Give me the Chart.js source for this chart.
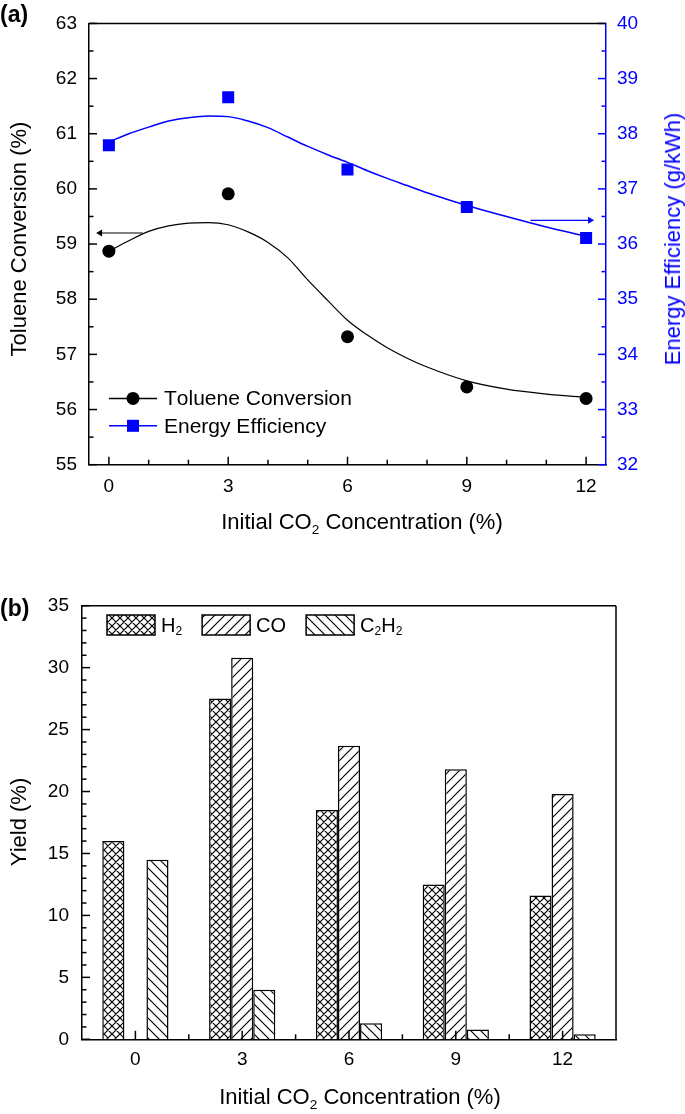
<!DOCTYPE html>
<html>
<head>
<meta charset="utf-8">
<title>CO2 effect on toluene conversion</title>
<script src="https://cdn.jsdelivr.net/npm/chart.js@4.4.0/dist/chart.umd.min.js"></script>
<style>
  html, body { margin: 0; padding: 0; background: #fff; }
  #page { position: relative; width: 685px; height: 1114px; font-family: "Liberation Sans", Arial, sans-serif; }
  canvas { position: absolute; left: 0; }
  #chartA { top: 0; }
  #chartB { top: 570px; }
  .lbl { position: absolute; white-space: nowrap; transform: translate(-50%, -50%); font-size: 22px; color: #000; line-height: 1; }
  .rot { transform: translate(-50%, -50%) rotate(-90deg); }
  .panel { position: absolute; font-weight: bold; font-size: 23px; line-height: 1; }
  sub { font-size: 0.62em; vertical-align: -0.35em; line-height: 0; }
</style>
</head>
<body>
<div id="page">
  <canvas id="chartA" width="685" height="560"></canvas>
  <canvas id="chartB" width="685" height="544"></canvas>
  <div class="panel" style="left:0;top:3px">(a)</div>
  <div class="panel" style="left:0;top:597px">(b)</div>
  <div class="lbl rot" style="left:19px;top:239px">Toluene Conversion (%)</div>
  <div class="lbl rot" style="left:673px;top:239px;color:#0000ff">Energy Efficiency (g/kWh)</div>
  <div class="lbl" style="left:362px;top:522px">Initial CO<sub>2</sub> Concentration (%)</div>
  <div class="lbl rot" style="left:19px;top:822px">Yield (%)</div>
  <div class="lbl" style="left:360px;top:1097px">Initial CO<sub>2</sub> Concentration (%)</div>
</div>
<script>
// (a) measured points
const concentrations = [0, 3, 6, 9, 12];
const tolueneConversion = [58.87, 59.91, 57.32, 56.41, 56.2];
const energyEfficiency = [37.79, 38.66, 37.35, 36.67, 36.11];

// (a) fitted curves
const fitX = [0, 0.5, 1, 1.5, 2, 2.5, 3, 3.5, 4, 4.5, 5, 5.5, 6, 6.5, 7, 7.5, 8, 9, 10, 11, 12];
const tolueneFit = [58.87, 59.06, 59.23, 59.33, 59.38, 59.39, 59.35, 59.22, 59.03, 58.75, 58.35, 57.98, 57.62, 57.35, 57.12, 56.93, 56.77, 56.52, 56.37, 56.28, 56.22];
const energyFit = [37.85, 38.0, 38.12, 38.23, 38.29, 38.32, 38.31, 38.23, 38.11, 37.94, 37.77, 37.62, 37.48, 37.33, 37.19, 37.06, 36.93, 36.70, 36.50, 36.31, 36.14];

// axis arrows
const leftArrowX = [0.85, -0.22];
const leftArrowY = [59.2, 59.2];
const rightArrowX = [10.6, 12.1];
const rightArrowY = [36.43, 36.43];

const xTicksA = [0, 3, 6, 9, 12];
const conversionTicks = [55, 56, 57, 58, 59, 60, 61, 62, 63];
const efficiencyTicks = [32, 33, 34, 35, 36, 37, 38, 39, 40];

// (b) product yields
const co2Labels = ['0', '3', '6', '9', '12'];
const yieldH2 = [16.0, 27.5, 18.5, 12.5, 11.6];
const yieldCO = [0, 30.8, 23.7, 21.8, 19.8];
const yieldC2H2 = [14.5, 4.0, 1.3, 0.8, 0.4];
const yieldTicks = [0, 5, 10, 15, 20, 25, 30, 35];

const BLUE = '#0000ff';
const FONT = '"Liberation Sans", Arial, sans-serif';
const SUBS = { '₂': '2' };

function pts(xs, ys) {
    return xs.map((x, i) => ({ x: x, y: ys[i] }));
}

function minorValues(min, max, step, skip) {
    const out = [];
    for (let v = min; v <= max + 1e-9; v += step) {
        const r = Math.round(v * 100) / 100;
        if (!skip.includes(r)) out.push(r);
    }
    return out;
}

function hatch(kind) {
    const s = kind === 'cross' ? 8 : 10;
    const c = document.createElement('canvas');
    c.width = s;
    c.height = s;
    const g = c.getContext('2d');
    g.fillStyle = '#fff';
    g.fillRect(0, 0, s, s);
    g.strokeStyle = '#000';
    g.lineWidth = 1.2;
    g.beginPath();
    if (kind === 'fwd' || kind === 'cross') {
        g.moveTo(-1, s + 1); g.lineTo(s + 1, -1);
        g.moveTo(-1, 1); g.lineTo(1, -1);
        g.moveTo(s - 1, s + 1); g.lineTo(s + 1, s - 1);
    }
    if (kind === 'back' || kind === 'cross') {
        g.moveTo(-1, -1); g.lineTo(s + 1, s + 1);
        g.moveTo(s - 1, -1); g.lineTo(s + 1, 1);
        g.moveTo(-1, s - 1); g.lineTo(1, s + 1);
    }
    g.stroke();
    return g.createPattern(c, 'repeat');
}

function drawRich(ctx, text, x, y, size) {
    for (const ch of text) {
        if (SUBS[ch]) {
            ctx.font = Math.round(size * 0.62) + 'px ' + FONT;
            ctx.fillText(SUBS[ch], x, y + size * 0.3);
            x += ctx.measureText(SUBS[ch]).width;
        } else {
            ctx.font = size + 'px ' + FONT;
            ctx.fillText(ch, x, y);
            x += ctx.measureText(ch).width;
        }
    }
    return x;
}

// inward tick marks + closing frame lines
const innerTicks = {
    id: 'innerTicks',
    afterDatasetsDraw(chart, args, opts) {
        const ctx = chart.ctx;
        const area = chart.chartArea;
        ctx.save();
        ctx.lineWidth = 1.5;
        (opts.axes || []).forEach(ax => {
            const scale = chart.scales[ax.id];
            ctx.strokeStyle = ax.color;
            const drawSet = (values, len) => {
                values.forEach(v => {
                    const p = scale.getPixelForValue(v);
                    ctx.beginPath();
                    if (ax.side === 'bottom') {
                        ctx.moveTo(p, area.bottom); ctx.lineTo(p, area.bottom - len);
                    } else if (ax.side === 'left') {
                        ctx.moveTo(area.left, p); ctx.lineTo(area.left + len, p);
                    } else {
                        ctx.moveTo(area.right, p); ctx.lineTo(area.right - len, p);
                    }
                    ctx.stroke();
                });
            };
            drawSet(ax.major, ax.majorLen);
            drawSet(ax.minor, ax.minorLen);
        });
        ctx.strokeStyle = '#000';
        (opts.frame || []).forEach(side => {
            ctx.beginPath();
            if (side === 'top') {
                ctx.moveTo(area.left, area.top); ctx.lineTo(area.right, area.top);
            } else if (side === 'right') {
                ctx.moveTo(area.right, area.top); ctx.lineTo(area.right, area.bottom);
            }
            ctx.stroke();
        });
        ctx.restore();
    }
};

// legend drawn inside the plot area
const insideLegend = {
    id: 'insideLegend',
    afterDraw(chart, args, opts) {
        if (!opts.items) return;
        const ctx = chart.ctx;
        const area = chart.chartArea;
        const size = opts.fontSize;
        ctx.save();
        ctx.textBaseline = 'middle';
        ctx.fillStyle = '#000';
        let x = area.left + opts.x;
        let y = area.top + opts.y;
        opts.items.forEach(idx => {
            const ds = chart.data.datasets[idx];
            if (opts.kind === 'line') {
                ctx.strokeStyle = ds.borderColor;
                ctx.lineWidth = 1.5;
                ctx.beginPath();
                ctx.moveTo(x, y); ctx.lineTo(x + 48, y);
                ctx.stroke();
                ctx.fillStyle = ds.backgroundColor;
                if (ds.pointStyle === 'rect') {
                    const s = ds.pointRadius * Math.SQRT2;
                    ctx.fillRect(x + 24 - s / 2, y - s / 2, s, s);
                } else {
                    ctx.beginPath();
                    ctx.arc(x + 24, y, ds.pointRadius, 0, Math.PI * 2);
                    ctx.fill();
                }
                ctx.fillStyle = '#000';
                drawRich(ctx, ds.label, x + 55, y + 1, size);
                y += opts.rowGap;
            } else {
                ctx.fillStyle = ds.backgroundColor;
                ctx.fillRect(x, y, 48, 20);
                ctx.strokeStyle = '#000';
                ctx.lineWidth = 1.5;
                ctx.strokeRect(x, y, 48, 20);
                ctx.fillStyle = '#000';
                x = drawRich(ctx, ds.label, x + 54, y + 11, size) + 20;
            }
        });
        ctx.restore();
    }
};

const tickFont = { family: FONT, size: 19 };

new Chart(document.getElementById('chartA'), {
    type: 'scatter',
    data: {
        datasets: [
            {
                label: 'Toluene fit',
                data: pts(fitX, tolueneFit),
                yAxisID: 'y',
                showLine: true,
                borderColor: '#000',
                borderWidth: 1.2,
                pointRadius: 0,
                cubicInterpolationMode: 'monotone'
            },
            {
                label: 'Energy fit',
                data: pts(fitX, energyFit),
                yAxisID: 'y1',
                showLine: true,
                borderColor: BLUE,
                borderWidth: 1.5,
                pointRadius: 0,
                cubicInterpolationMode: 'monotone'
            },
            {
                label: 'Toluene Conversion',
                data: pts(concentrations, tolueneConversion),
                yAxisID: 'y',
                pointStyle: 'circle',
                pointRadius: 6.5,
                backgroundColor: '#000',
                borderColor: '#000',
                borderWidth: 0
            },
            {
                label: 'Energy Efficiency',
                data: pts(concentrations, energyEfficiency),
                yAxisID: 'y1',
                pointStyle: 'rect',
                pointRadius: 8.5,
                backgroundColor: BLUE,
                borderColor: BLUE,
                borderWidth: 0
            },
            {
                label: 'arrow left',
                data: pts(leftArrowX, leftArrowY),
                yAxisID: 'y',
                showLine: true,
                borderColor: '#000',
                borderWidth: 1.2,
                backgroundColor: '#000',
                pointStyle: 'triangle',
                pointRotation: [0, 270],
                pointRadius: [0, 4],
                pointBorderWidth: 0
            },
            {
                label: 'arrow right',
                data: pts(rightArrowX, rightArrowY),
                yAxisID: 'y1',
                showLine: true,
                borderColor: BLUE,
                borderWidth: 1.2,
                backgroundColor: BLUE,
                pointStyle: 'triangle',
                pointRotation: [0, 90],
                pointRadius: [0, 4],
                pointBorderWidth: 0
            }
        ]
    },
    options: {
        responsive: false,
        animation: false,
        layout: { padding: { top: 14.3, left: 0, right: 0, bottom: 0 } },
        plugins: {
            legend: { display: false },
            tooltip: { enabled: false },
            innerTicks: {
                axes: [
                    { id: 'x', side: 'bottom', color: '#000', major: xTicksA, minor: minorValues(0, 12, 1, xTicksA), majorLen: 8, minorLen: 5 },
                    { id: 'y', side: 'left', color: '#000', major: conversionTicks, minor: minorValues(55, 63, 0.5, conversionTicks), majorLen: 8, minorLen: 4.5 },
                    { id: 'y1', side: 'right', color: BLUE, major: efficiencyTicks, minor: minorValues(32, 40, 0.5, efficiencyTicks), majorLen: 8, minorLen: 4.5 }
                ],
                frame: ['top']
            },
            insideLegend: { kind: 'line', items: [2, 3], x: 20, y: 375, rowGap: 27.4, fontSize: 21 }
        },
        scales: {
            x: {
                type: 'linear',
                min: -0.5,
                max: 12.5,
                afterBuildTicks: s => { s.ticks = xTicksA.map(v => ({ value: v })); },
                afterFit: s => { s.height = 560 - 464.7; },
                grid: { display: false, drawTicks: false },
                border: { display: true, color: '#000', width: 1.5 },
                ticks: { font: tickFont, color: '#000', padding: 11, maxRotation: 0 }
            },
            y: {
                position: 'left',
                min: 55,
                max: 63,
                afterBuildTicks: s => { s.ticks = conversionTicks.map(v => ({ value: v })); },
                afterFit: s => { s.width = 89; },
                grid: { display: false, drawTicks: false },
                border: { display: true, color: '#000', width: 1.5 },
                ticks: { font: tickFont, color: '#000', padding: 12 }
            },
            y1: {
                position: 'right',
                min: 32,
                max: 40,
                afterBuildTicks: s => { s.ticks = efficiencyTicks.map(v => ({ value: v })); },
                afterFit: s => { s.width = 685 - 606; },
                grid: { display: false, drawTicks: false },
                border: { display: true, color: BLUE, width: 1.5 },
                ticks: { font: tickFont, color: BLUE, padding: 11 }
            }
        }
    },
    plugins: [innerTicks, insideLegend]
});

new Chart(document.getElementById('chartB'), {
    type: 'bar',
    data: {
        labels: co2Labels,
        datasets: [
            { label: 'H₂', data: yieldH2, backgroundColor: hatch('cross') },
            { label: 'CO', data: yieldCO, backgroundColor: hatch('fwd') },
            { label: 'C₂H₂', data: yieldC2H2, backgroundColor: hatch('back') }
        ].map(ds => Object.assign(ds, {
            borderColor: '#000',
            borderWidth: 1.5,
            categoryPercentage: 0.62,
            barPercentage: 1
        }))
    },
    options: {
        responsive: false,
        animation: false,
        layout: { padding: { top: 35.7, left: 0, right: 685 - 616, bottom: 0 } },
        plugins: {
            legend: { display: false },
            tooltip: { enabled: false },
            innerTicks: {
                axes: [
                    { id: 'x', side: 'bottom', color: '#000', major: [0, 1, 2, 3, 4], minor: [0.5, 1.5, 2.5, 3.5], majorLen: 8.5, minorLen: 5 },
                    { id: 'y', side: 'left', color: '#000', major: yieldTicks, minor: minorValues(0, 35, 1, yieldTicks), majorLen: 8, minorLen: 4.5 }
                ],
                frame: ['top', 'right']
            },
            insideLegend: { kind: 'box', items: [0, 1, 2], x: 25, y: 9.3, fontSize: 20 }
        },
        scales: {
            x: {
                afterFit: s => { s.height = 544 - 469.3; },
                grid: { display: false, drawTicks: false },
                border: { display: true, color: '#000', width: 1.5 },
                ticks: { font: tickFont, color: '#000', padding: 9 }
            },
            y: {
                min: 0,
                max: 35,
                afterBuildTicks: s => { s.ticks = yieldTicks.map(v => ({ value: v })); },
                afterFit: s => { s.width = 82; },
                grid: { display: false, drawTicks: false },
                border: { display: true, color: '#000', width: 1.5 },
                ticks: { font: tickFont, color: '#000', padding: 13 }
            }
        }
    },
    plugins: [innerTicks, insideLegend]
});
</script>
</body>
</html>
